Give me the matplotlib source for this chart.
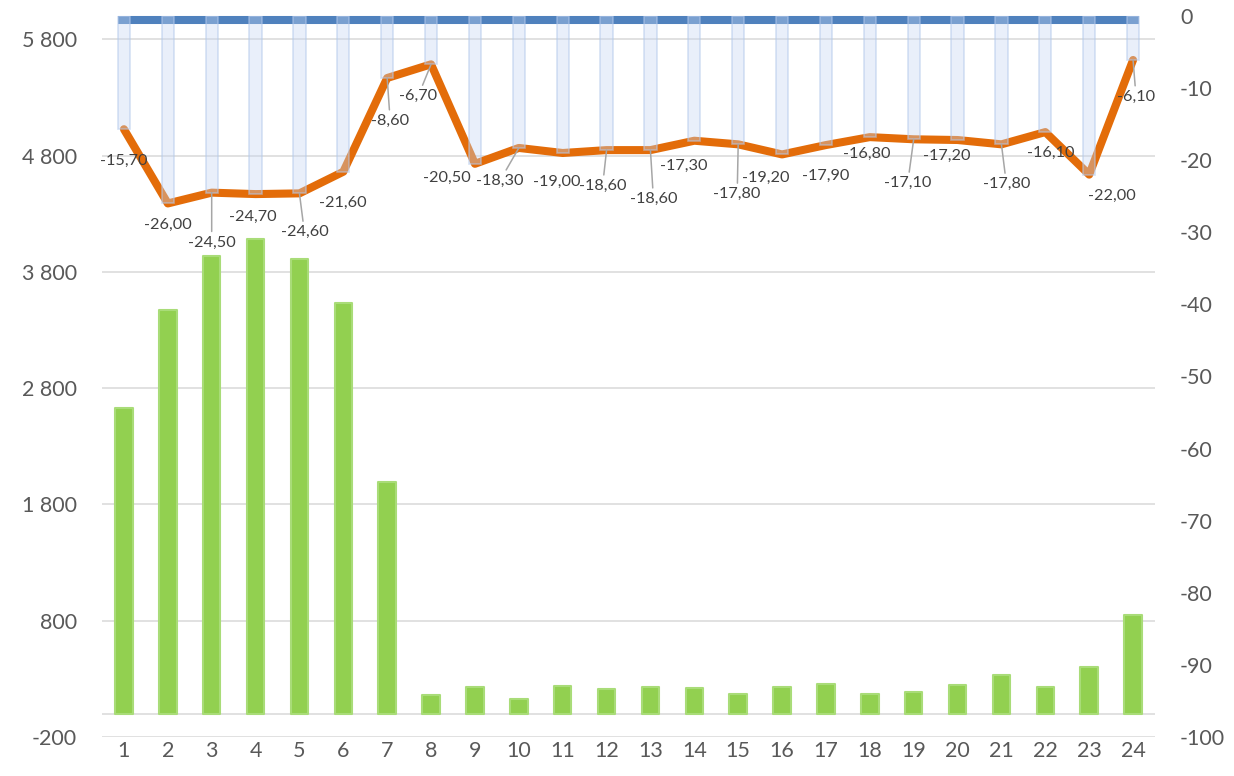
import matplotlib
matplotlib.use("Agg")
import matplotlib.pyplot as plt
from matplotlib.transforms import offset_copy
import numpy as np

plt.rcParams['font.family'] = ['Lato', 'DejaVu Sans']

# ---- data ----
hours = list(range(1, 25))
volumes = [2625, 3468, 3933, 4079, 3907, 3528, 1997, 164, 232, 129, 241, 215,
           232, 224, 172, 232, 258, 172, 189, 250, 336, 232, 404, 852]
temps = [-15.7, -26.0, -24.5, -24.7, -24.6, -21.6, -8.6, -6.7, -20.5, -18.3,
         -19.0, -18.6, -18.6, -17.3, -17.8, -19.2, -17.9, -16.8, -17.1, -17.2,
         -17.8, -16.1, -22.0, -6.1]
left_ticks = list(range(-200, 5801, 1000))
right_ticks = list(range(-100, 1, 10))

# label placement (pixel offsets from point: dx right, dy down) and leader flags
label_dx = [0, 0, 0, -3, 5, 0, 3, -13, -28, -19, -6, -4, 3, -11, -1, -16, 0, -3, -6, -11, 5, 5, 23, 3]
label_dy = [32, 21, 50, 23, 39, 31, 43, 32, 14, 33, 29, 36, 49, 25, 50, 23, 31, 17, 44, 16, 40, 21, 21, 37]
leader = [0, 0, 1, 0, 1, 0, 1, 1, 0, 1, 0, 1, 1, 0, 1, 0, 0, 0, 1, 0, 1, 0, 0, 1]

W, H = 1234, 776
fig = plt.figure(figsize=(W / 100, H / 100), dpi=100)
ax = fig.add_axes([102 / W, 39 / H, 1053 / W, 721 / H])
ax2 = ax.twinx()

ax.set_xlim(0.5, 24.5)
ax.set_ylim(-200, 6000)
ax2.set_ylim(-100, 0)

grid_c = '#D9D9D9'
ax.set_yticks(left_ticks)
ax.set_yticklabels([f"{v:,}".replace(",", " ") for v in left_ticks])
ax.yaxis.grid(True, color=grid_c, lw=1.1)
ax.axhline(0, color=grid_c, lw=1.1, zorder=0.5)
ax.set_axisbelow(True)
ax.set_xticks(hours)
ax.set_xticklabels([str(h) for h in hours])
ax2.set_yticks(right_ticks)
ax2.set_yticklabels([str(v) for v in right_ticks])

for a in (ax, ax2):
    for s in a.spines.values():
        s.set_visible(False)
ax.tick_params(axis='y', length=0, pad=18, labelsize=15.5, labelcolor='#595959')
ax.tick_params(axis='x', length=0, pad=3, labelsize=15.5, labelcolor='#595959')
ax2.tick_params(axis='y', length=0, pad=18, labelsize=15.5, labelcolor='#595959')

# green bars
ax.bar(hours, volumes, width=0.4, color='#92D050', edgecolor='#A9DC78',
       lw=1.5, joinstyle='round', zorder=2)

# blue band at top
bw = 0.28
band_tr = offset_copy(ax2.transData, fig=fig, x=0, y=-4, units='dots')
ax2.plot([hours[0] - bw / 2, hours[-1] + bw / 2], [0, 0], color='#4F81BD', lw=5.8,
         solid_capstyle='butt', transform=band_tr, clip_on=False, zorder=2)

# orange line
ax2.plot(hours, temps, color='#E36C09', lw=5.8, solid_joinstyle='round',
         solid_capstyle='round', zorder=2.5)

# light-blue hanging bars
ax2.bar(hours, temps, width=bw, bottom=0, color=(196 / 255, 214 / 255, 243 / 255, 0.37),
        edgecolor=(0.70, 0.79, 0.92, 0.55), lw=1.2, zorder=3)

# data labels
for h, t, dx, dy, ld in zip(hours, temps, label_dx, label_dy, leader):
    txt = f"{t:.2f}".replace('.', ',')
    kw = {}
    if ld:
        kw['arrowprops'] = dict(arrowstyle='-', color='#A6A6A6', lw=1.1,
                                shrinkA=1, shrinkB=0)
    ax2.annotate(txt, xy=(h, t), xytext=(dx, -dy), textcoords='offset pixels',
                 ha='center', va='center', fontsize=11.7, color='#404040',
                 zorder=5, **kw)

fig.savefig('out.png', dpi=100)
